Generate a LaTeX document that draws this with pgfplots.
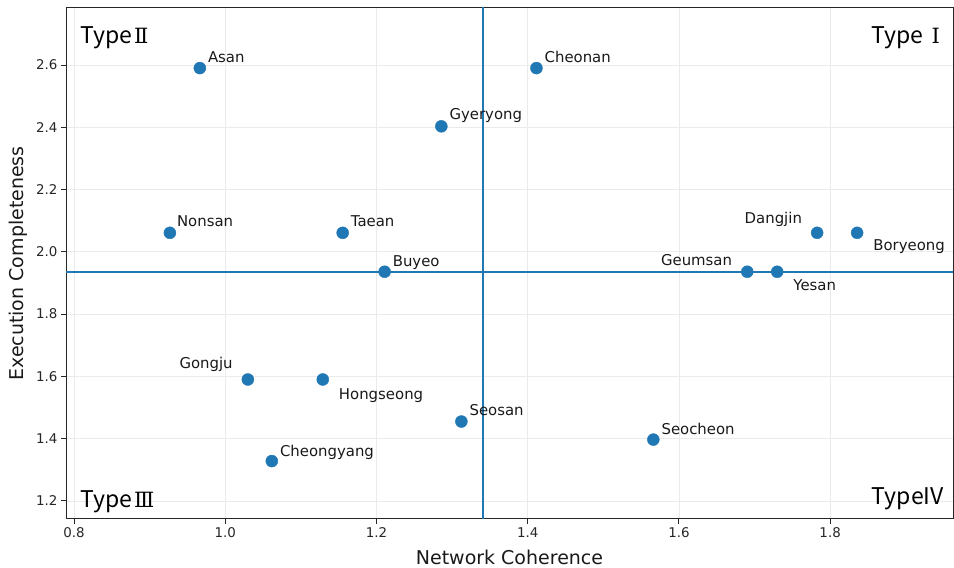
\documentclass[border=0pt]{standalone}
\usepackage{pgfplots}
\pgfplotsset{compat=1.18}
\usepackage{fontspec}
\setmainfont{DejaVu Sans}
\newfontfamily\cjk{Noto Sans CJK KR}
\newfontfamily\rn{DejaVu Serif}
\definecolor{mplblue}{HTML}{1F77B4}
\tikzset{lbl/.style={font=\fontsize{14.9}{17}\selectfont, inner sep=0pt, text height=0.72em, text depth=0.2em, text=black!90, yshift=-3pt}}
\newcommand{\RN}[1]{{\rn\fontsize{21}{24}\selectfont #1}}
\begin{document}
\begin{tikzpicture}
\useasboundingbox (0,0) rectangle (954pt,568pt);
\begin{axis}[
  at={(66pt,49pt)}, anchor=south west,
  scale only axis, width=887pt, height=511pt,
  xmin=0.7894, xmax=1.9625, ymin=1.142, ymax=2.783,
  xtick={0.8,1.0,...,1.8}, ytick={1.2,1.4,...,2.6},
  xticklabel style={/pgf/number format/.cd, fixed, fixed zerofill, precision=1},
  yticklabel style={/pgf/number format/.cd, fixed, fixed zerofill, precision=1},
  /pgf/number format/assume math mode=true,
  tick label style={font=\fontsize{13.4}{16}\selectfont, text=black!85},
  tick pos=left, tick align=outside, major tick length=5pt,
  tick style={black!85, line width=0.9pt},
  axis line style={black!85, line width=1pt},
  grid=major, grid style={black!8, line width=0.8pt},
  xlabel={Network Coherence}, ylabel={Execution Completeness},
  label style={font=\fontsize{19}{22}\selectfont, text=black!90},
  x label style={at={(axis description cs:0.5,0)}, yshift=-38pt, anchor=center},
  y label style={at={([xshift=-48pt]axis description cs:0,0.5)}, rotate=0, anchor=center},
  clip=true,
]
\addplot[draw=mplblue, line width=2pt, forget plot] coordinates {(1.3403,1.0) (1.3403,3.0)};
\addplot[draw=mplblue, line width=2pt, forget plot] coordinates {(0.7,1.936) (2.0,1.936)};
\addplot[only marks, mark=*, mark size=6pt, mark options={fill=mplblue, draw=mplblue}] coordinates {
 (0.9664,2.590) (1.4116,2.590) (1.2858,2.403) (0.9268,2.061) (1.1553,2.061)
 (1.2108,1.936) (1.7828,2.061) (1.8357,2.061) (1.6904,1.936) (1.7300,1.936)
 (1.0299,1.590) (1.1290,1.590) (1.3123,1.455) (1.5662,1.397) (1.0616,1.328)
};
\node[lbl, anchor=west, xshift=8pt, yshift=11pt] at (axis cs:0.9664,2.590) {Asan};
\node[lbl, anchor=west, xshift=8pt, yshift=11pt] at (axis cs:1.4116,2.590) {Cheonan};
\node[lbl, anchor=west, xshift=8pt, yshift=12pt] at (axis cs:1.2858,2.403) {Gyeryong};
\node[lbl, anchor=west, xshift=7pt, yshift=12pt] at (axis cs:0.9268,2.061) {Nonsan};
\node[lbl, anchor=west, xshift=8pt, yshift=12pt] at (axis cs:1.1553,2.061) {Taean};
\node[lbl, anchor=west, xshift=8pt, yshift=11pt] at (axis cs:1.2108,1.936) {Buyeo};
\node[lbl, anchor=east, xshift=-15pt, yshift=15pt] at (axis cs:1.7828,2.061) {Dangjin};
\node[lbl, anchor=west, xshift=16pt, yshift=-12pt] at (axis cs:1.8357,2.061) {Boryeong};
\node[lbl, anchor=east, xshift=-15pt, yshift=12pt] at (axis cs:1.6904,1.936) {Geumsan};
\node[lbl, anchor=west, xshift=16pt, yshift=-13pt] at (axis cs:1.7300,1.936) {Yesan};
\node[lbl, anchor=east, xshift=-15pt, yshift=17pt] at (axis cs:1.0299,1.590) {Gongju};
\node[lbl, anchor=west, xshift=16pt, yshift=-14pt] at (axis cs:1.1290,1.590) {Hongseong};
\node[lbl, anchor=west, xshift=8pt, yshift=12pt] at (axis cs:1.3123,1.455) {Seosan};
\node[lbl, anchor=west, xshift=8pt, yshift=11pt] at (axis cs:1.5662,1.397) {Seocheon};
\node[lbl, anchor=west, xshift=8pt, yshift=10pt] at (axis cs:1.0616,1.328) {Cheongyang};
\node[anchor=base west, inner sep=0pt, font=\cjk\fontsize{23}{26}\selectfont] at ([xshift=14pt, yshift=-36pt]rel axis cs:0,1) {Type\hspace{2pt}\RN{Ⅱ}};
\node[anchor=base east, inner sep=0pt, font=\cjk\fontsize{23}{26}\selectfont] at ([xshift=-13pt, yshift=-36pt]rel axis cs:1,1) {Type\hspace{8pt}\RN{Ⅰ}};
\node[anchor=base west, inner sep=0pt, font=\cjk\fontsize{23}{26}\selectfont] at ([xshift=14pt, yshift=11pt]rel axis cs:0,0) {Type\hspace{2pt}\RN{Ⅲ}};
\node[anchor=base east, inner sep=0pt, font=\cjk\fontsize{23}{26}\selectfont] at ([xshift=-9pt, yshift=14pt]rel axis cs:1,0) {TypeIV};
\end{axis}
\end{tikzpicture}
\end{document}
